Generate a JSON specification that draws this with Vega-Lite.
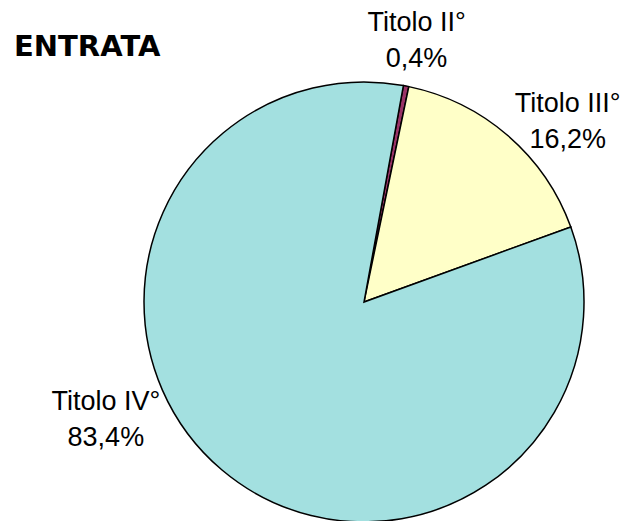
{
  "$schema": "https://vega.github.io/schema/vega-lite/v6.json",
  "autosize": "none",
  "width": 440,
  "height": 440,
  "padding": {"left": 144, "top": 82, "right": 42, "bottom": 0},
  "background": "white",
  "config": {"view": {"stroke": null}},
  "title": {
    "text": "ENTRATA",
    "anchor": "start",
    "frame": "group",
    "orient": "top",
    "dx": -130,
    "dy": 76,
    "offset": 0,
    "baseline": "alphabetic",
    "font": "DejaVu Sans",
    "fontSize": 29,
    "fontWeight": "bold",
    "color": "black"
  },
  "data": {
    "values": [
      {"categoria": "Titolo II°", "ord": 1, "valore": 0.4, "etichetta": ["Titolo II°", "0,4%"]},
      {"categoria": "Titolo III°", "ord": 2, "valore": 16.2, "etichetta": ["Titolo III°", "16,2%"]},
      {"categoria": "Titolo IV°", "ord": 3, "valore": 83.4, "etichetta": ["Titolo IV°", "83,4%"]}
    ]
  },
  "transform": [
    {"stack": "valore", "groupby": [], "sort": [{"field": "ord", "order": "ascending"}], "as": ["v0", "v1"]}
  ],
  "layer": [
    {
      "mark": {"type": "arc", "outerRadius": 220, "stroke": "black", "strokeWidth": 1.5},
      "encoding": {
        "theta": {"field": "v0", "type": "quantitative", "scale": {"domain": [0, 100], "range": [0.18, 6.4632]}},
        "theta2": {"field": "v1"},
        "color": {
          "field": "categoria",
          "type": "nominal",
          "scale": {"domain": ["Titolo II°", "Titolo III°", "Titolo IV°"], "range": ["#993366", "#FFFFC8", "#A3E0E0"]},
          "legend": null
        }
      }
    },
    {
      "transform": [{"filter": "datum.categoria === 'Titolo II°'"}],
      "mark": {"type": "text", "radius": 268, "thetaOffset": 0.0175, "dy": -16, "font": "Liberation Sans", "fontSize": 27, "lineHeight": 36, "align": "center", "baseline": "middle", "color": "black"},
      "encoding": {
        "theta": {"field": "v0", "type": "quantitative", "stack": null},
        "text": {"field": "etichetta"}
      }
    },
    {
      "transform": [{"filter": "datum.categoria === 'Titolo III°'"}],
      "mark": {"type": "text", "radius": 273, "thetaOffset": 0.637, "dy": -16, "font": "Liberation Sans", "fontSize": 27, "lineHeight": 36, "align": "center", "baseline": "middle", "color": "black"},
      "encoding": {
        "theta": {"field": "v0", "type": "quantitative", "stack": null},
        "text": {"field": "etichetta"}
      }
    },
    {
      "transform": [{"filter": "datum.categoria === 'Titolo IV°'"}],
      "mark": {"type": "text", "radius": 283, "thetaOffset": 3.067, "dy": -16, "font": "Liberation Sans", "fontSize": 27, "lineHeight": 36, "align": "center", "baseline": "middle", "color": "black"},
      "encoding": {
        "theta": {"field": "v0", "type": "quantitative", "stack": null},
        "text": {"field": "etichetta"}
      }
    }
  ]
}
